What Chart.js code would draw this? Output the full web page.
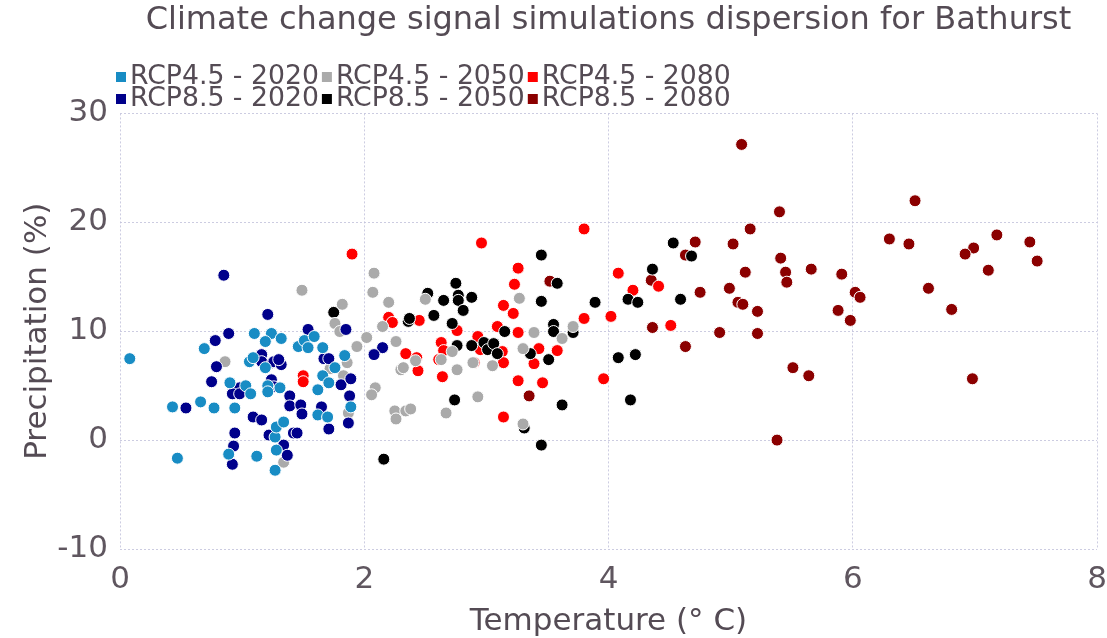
<!DOCTYPE html>
<html><head><meta charset="utf-8">
<script src="https://cdn.jsdelivr.net/npm/chart.js@4/dist/chart.umd.min.js"></script>
<style>html,body{margin:0;padding:0;background:#fff;overflow:hidden}#wrap{width:1107px;height:638px}</style>
</head><body><div id="wrap"><canvas id="c" width="1107" height="638"></canvas></div>
<script>
const chartTitle = 'Climate change signal simulations dispersion for Bathurst';
const xTitle = 'Temperature (° C)';
const yTitle = 'Precipitation (%)';
const xTicks = [0, 2, 4, 6, 8];
const yTicks = [-10, 0, 10, 20, 30];

const rcp45_2020 = [[0.08,7.48],[0.69,8.40],[1.10,9.79],[1.24,9.79],[1.19,9.05],[1.06,7.20],[1.09,7.57],[1.19,6.65],[0.90,5.26],[1.03,4.99],[1.07,4.25],[1.21,4.99],[1.21,4.43],[0.43,3.05],[0.66,3.51],[0.77,2.95],[0.94,2.95],[0.89,-1.29],[0.47,-1.66],[1.12,-1.48],[1.27,-2.77],[1.27,0.28],[1.28,1.20],[1.32,9.33],[1.46,8.59],[1.51,9.14],[1.54,8.49],[1.59,9.51],[1.66,8.49],[1.66,5.91],[1.71,5.26],[1.62,4.62],[1.76,6.65],[1.84,7.76],[1.89,3.05],[1.62,2.31],[1.70,2.12],[1.31,4.80],[1.34,1.66],[1.28,-0.92]];
const rcp85_2020 = [[0.85,15.14],[1.21,11.54],[0.89,9.79],[0.78,9.14],[0.79,6.74],[1.16,7.85],[1.16,7.20],[1.25,7.11],[0.75,5.36],[0.98,4.80],[0.92,4.25],[0.98,4.25],[1.24,5.54],[0.54,2.95],[1.09,2.12],[1.16,1.85],[0.94,0.65],[0.93,-0.55],[0.92,-2.22],[1.22,0.46],[1.54,10.16],[1.85,10.16],[2.15,8.49],[2.08,7.85],[1.26,7.20],[1.32,6.93],[1.30,7.39],[1.67,7.48],[1.71,7.48],[1.81,5.08],[1.89,5.63],[1.88,4.06],[1.87,1.57],[1.26,4.89],[1.39,4.06],[1.39,3.14],[1.48,3.23],[1.49,2.40],[1.65,3.05],[1.71,1.02],[1.42,0.65],[1.45,0.65],[1.34,-0.46],[1.37,-1.39]];
const rcp45_2050 = [[2.08,15.33],[1.49,13.76],[2.07,13.57],[2.20,12.65],[1.82,12.47],[2.50,12.93],[1.76,10.71],[1.80,9.97],[2.15,10.43],[2.02,9.42],[1.94,8.59],[2.26,9.05],[2.42,7.29],[2.30,6.46],[2.32,6.65],[2.09,4.80],[2.06,4.16],[2.25,2.68],[2.26,1.94],[2.34,2.68],[2.38,2.86],[1.86,7.11],[1.83,5.91],[1.72,6.56],[1.87,2.49],[1.34,-2.03],[0.86,7.20],[2.63,7.39],[2.72,8.13],[2.76,6.46],[2.89,7.11],[3.05,6.83],[2.93,3.97],[2.67,2.49],[3.27,13.02],[3.30,8.40],[3.39,9.88],[3.30,1.48],[3.62,9.33],[3.71,10.43]];
const rcp85_2050 = [[1.75,11.73],[2.36,10.90],[2.37,11.17],[2.16,-1.75],[2.57,11.45],[2.52,13.48],[2.65,12.83],[2.75,14.40],[2.77,13.30],[2.77,12.83],[2.88,13.11],[2.81,11.91],[2.72,10.71],[2.76,8.68],[2.88,8.68],[2.98,8.96],[3.01,8.31],[3.06,8.86],[3.09,7.94],[3.15,9.97],[3.36,7.94],[3.51,7.39],[3.45,16.99],[3.45,12.74],[3.58,14.40],[3.55,10.62],[3.55,9.97],[3.71,9.88],[3.89,12.65],[4.16,12.93],[4.24,12.65],[4.08,7.57],[4.22,7.85],[4.18,3.69],[3.62,3.23],[3.31,1.11],[3.45,-0.46],[2.74,3.69],[4.53,18.10],[4.68,16.90],[4.36,15.70],[4.59,12.93]];
const rcp45_2080 = [[1.90,17.08],[2.20,11.27],[2.23,10.80],[2.34,7.94],[2.44,6.37],[1.50,5.91],[1.50,5.36],[2.45,10.99],[2.63,8.96],[2.65,8.22],[2.61,7.39],[2.64,5.82],[2.96,18.10],[3.80,19.39],[3.26,15.79],[3.23,14.31],[3.14,12.37],[3.22,11.63],[2.76,10.06],[3.09,10.43],[3.26,9.88],[2.93,9.51],[2.43,7.57],[2.95,8.31],[3.13,8.13],[3.43,8.40],[3.58,8.22],[2.90,7.11],[3.14,7.11],[3.39,7.02],[3.26,5.45],[3.46,5.26],[3.96,5.63],[3.14,2.12],[4.08,15.33],[4.20,13.76],[4.41,14.13],[3.80,11.17],[4.02,11.36],[4.51,10.53]];
const rcp85_2080 = [[3.52,14.59],[3.35,4.06],[5.09,27.15],[5.40,20.96],[5.16,19.39],[4.71,18.19],[5.02,18.01],[4.63,16.99],[5.41,16.71],[5.12,15.42],[5.45,15.42],[5.46,14.50],[5.66,15.70],[5.91,15.24],[4.35,14.68],[4.75,13.57],[4.99,13.94],[5.06,12.65],[5.10,12.47],[5.22,11.82],[5.88,11.91],[4.36,10.34],[4.91,9.88],[5.22,9.79],[4.63,8.59],[5.51,6.65],[5.64,5.91],[5.38,0.00],[6.51,21.98],[6.30,18.47],[6.46,18.01],[7.18,18.84],[6.99,17.64],[6.92,17.08],[7.45,18.19],[7.51,16.44],[7.11,15.60],[6.02,13.57],[6.06,13.11],[6.62,13.94],[5.98,10.99],[6.81,12.00],[6.98,5.63]];

const seriesLabels = ['RCP4.5 - 2020','RCP8.5 - 2020','RCP4.5 - 2050','RCP8.5 - 2050','RCP4.5 - 2080','RCP8.5 - 2080'];
const seriesData = [rcp45_2020, rcp85_2020, rcp45_2050, rcp85_2050, rcp45_2080, rcp85_2080];
const seriesColors = ['#188cc4','#00008b','#aaaaaa','#000000','#ff0000','#8b0000'];
const legendRows = [['RCP4.5 - 2020','RCP4.5 - 2050','RCP4.5 - 2080'],['RCP8.5 - 2020','RCP8.5 - 2050','RCP8.5 - 2080']];

const textColor = '#544b54';
const tickColor = '#5f565f';
const gridColor = 'rgba(195,195,220,0.85)';
const FONT = '"DejaVu Sans", "Liberation Sans", sans-serif';

const legendPlugin = {
  id: 'gridLegend',
  afterDraw(chart) {
    const ctx = chart.ctx;
    ctx.save();
    ctx.font = '26.7px ' + FONT;
    ctx.textBaseline = 'middle';
    ctx.textAlign = 'left';
    legendRows.forEach((row, ri) => {
      let x = 116;
      const y = 77 + ri * 22;
      row.forEach(label => {
        const ds = chart.data.datasets.find(d => d.label === label);
        ctx.fillStyle = ds.backgroundColor;
        ctx.fillRect(x, y - 5, 10, 10);
        ctx.fillStyle = textColor;
        ctx.fillText(label, x + 14, y);
        x += 14 + ctx.measureText(label).width + 3;
      });
    });
    ctx.restore();
  }
};

const datasets = seriesLabels.map((lab, i) => ({
  label: lab,
  data: seriesData[i].map(p => ({x: p[0], y: p[1]})),
  backgroundColor: seriesColors[i],
  borderColor: '#ffffff',
  borderWidth: 1,
  pointRadius: 6,
  pointHoverRadius: 6
}));

new Chart(document.getElementById('c'), {
  type: 'scatter',
  data: { datasets },
  plugins: [legendPlugin],
  options: {
    responsive: false,
    devicePixelRatio: 1,
    animation: false,
    layout: { padding: { left: 10, right: 0, top: 0, bottom: 0 } },
    plugins: {
      legend: { display: false },
      tooltip: { enabled: false },
      title: {
        display: true,
        fullSize: false,
        text: chartTitle,
        color: textColor,
        font: { family: FONT, size: 32, weight: 'normal' },
        padding: { top: 1, bottom: 74 }
      }
    },
    scales: {
      x: {
        type: 'linear',
        min: xTicks[0], max: xTicks[xTicks.length - 1],
        afterBuildTicks: s => { s.ticks = xTicks.map(v => ({value: v})); },
        afterFit: s => { s.height = 89; s.paddingRight = 10; s.paddingLeft = 0; },
        grid: { color: gridColor, drawTicks: false, lineWidth: 1 },
        border: { display: false, dash: [2, 2] },
        ticks: { color: tickColor, font: { family: FONT, size: 31 }, padding: 12, maxRotation: 0 },
        title: { display: true, text: xTitle, color: textColor, font: { family: FONT, size: 31 }, padding: { top: 0, bottom: -3 } }
      },
      y: {
        type: 'linear',
        min: yTicks[0], max: yTicks[yTicks.length - 1],
        afterBuildTicks: s => { s.ticks = yTicks.map(v => ({value: v})); },
        afterFit: s => { s.width = 110; },
        grid: { color: gridColor, drawTicks: false, lineWidth: 1 },
        border: { display: false, dash: [2, 2] },
        ticks: { color: tickColor, font: { family: FONT, size: 31 }, padding: 12 },
        title: { display: true, text: yTitle, color: textColor, font: { family: FONT, size: 31 }, padding: { top: 9, bottom: 0 } }
      }
    }
  }
});
</script>
</body></html>
